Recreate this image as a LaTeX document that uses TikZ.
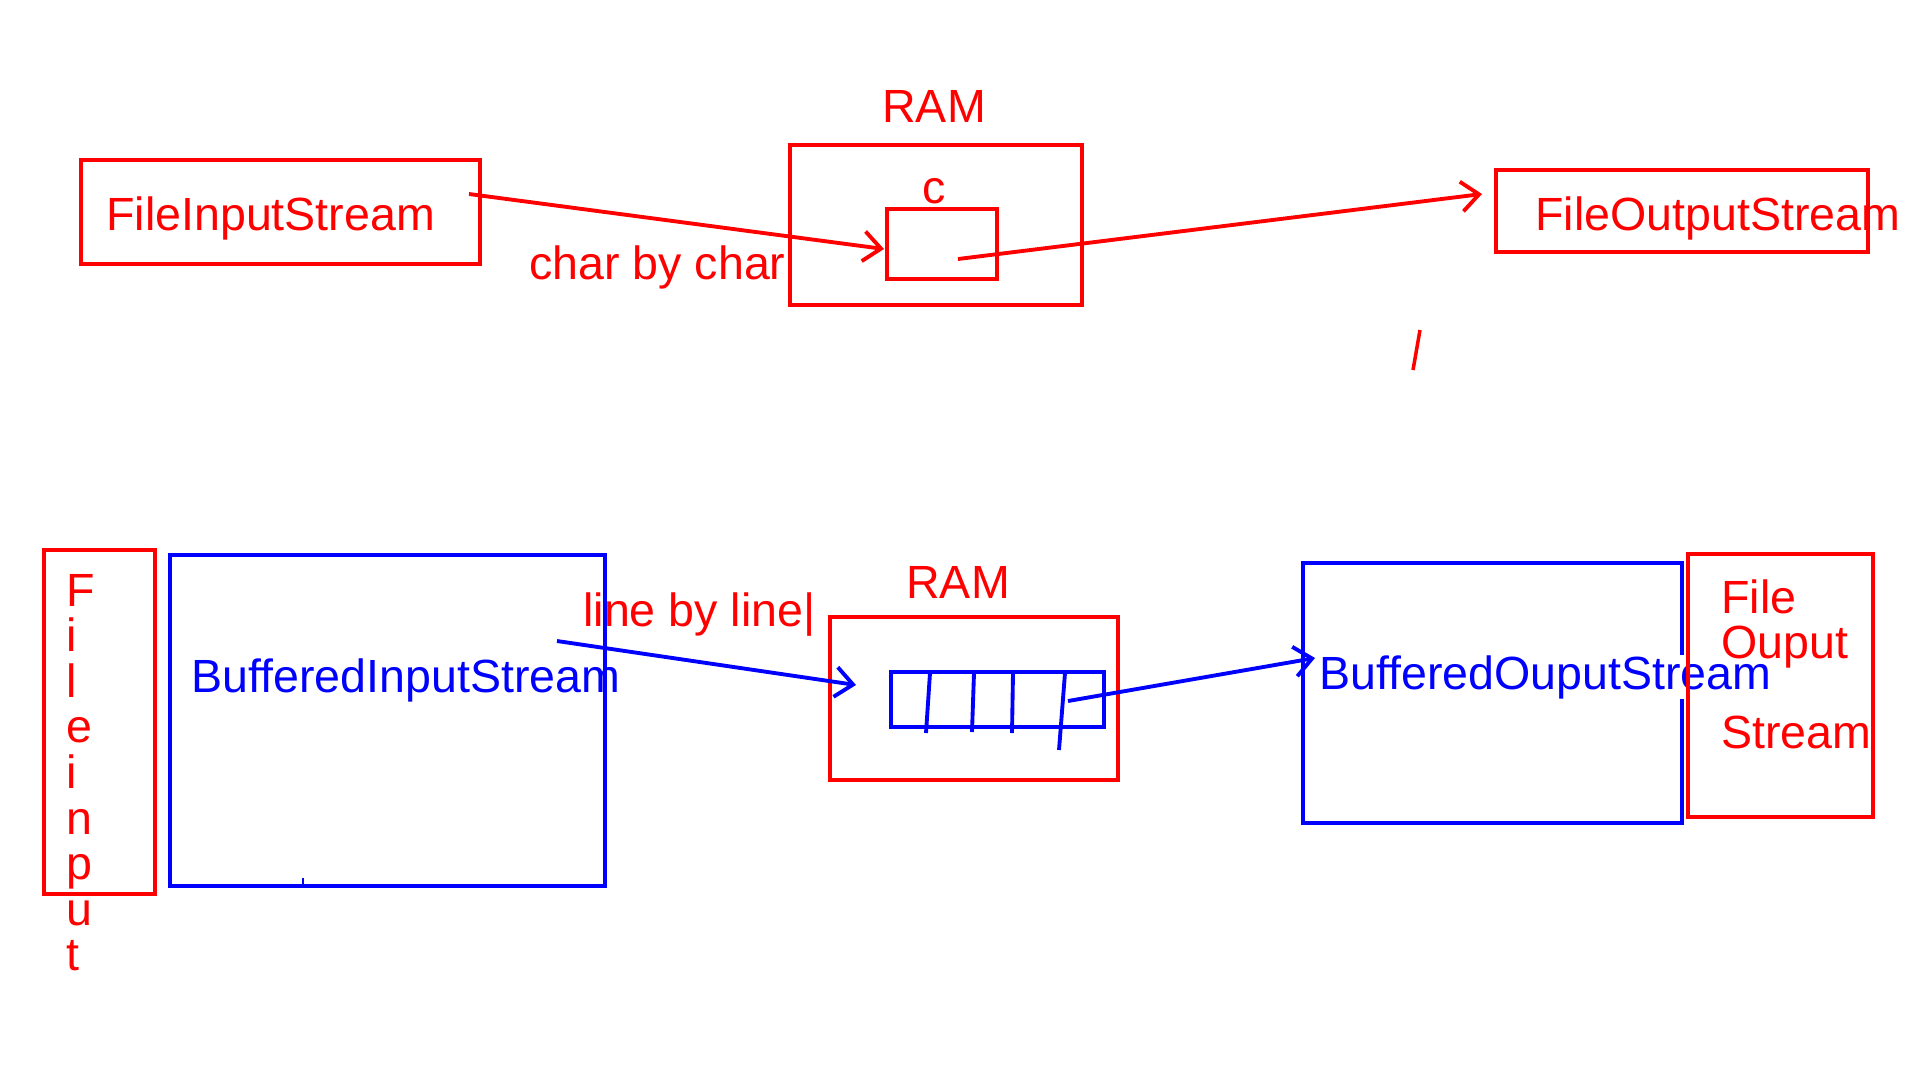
\documentclass[tikz,border=0pt]{standalone}
\usepackage{fontspec}
\setmainfont{Liberation Sans}
\usetikzlibrary{arrows.meta}

\begin{document}
\begin{tikzpicture}[x=0.02cm,y=-0.02cm,
  redbox/.style={draw=red,line width=2.4pt},
  bluebox/.style={draw=blue,line width=2.2pt},
  lbl/.style={inner sep=0pt,anchor=base west,font=\fontsize{26.5pt}{26.5pt}\selectfont},
  redarrow/.style={draw=red,line width=2.2pt,-{Straight Barb[length=10pt,width=17pt]}},
  bluearrow/.style={draw=blue,line width=2.2pt,-{Straight Barb[length=10pt,width=17pt]}}]
\useasboundingbox (0,0) rectangle (1920,1080);
% char by char
\node [redbox,minimum width=7.98cm,minimum height=2.08cm] (fis) at (280.5,212) {};
\node [lbl,red] (fistext) at (106,230) {FileInputStream};
\node [lbl,red] (ramtop) at (882,122) {RAM};
\node [redbox,minimum width=5.84cm,minimum height=3.2cm] (ram) at (936,225) {};
\node [lbl,red] (ctext) at (922,203) {c};
\node [redbox,minimum width=2.2cm,minimum height=1.4cm] (cell) at (942,244) {};
\node [lbl,red] (chartext) at (529,279) {char by char};
\node [redbox,minimum width=7.44cm,minimum height=1.64cm] (fos) at (1682,211) {};
\node [lbl,red] (fostext) at (1535,230) {FileOutputStream};
\coordinate (a1) at (469,194);
\coordinate (a2) at (884,249);
\coordinate (a3) at (958,259);
\coordinate (a4) at (1482,194);
\draw [redarrow] (a1) -- (a2);
\draw [redarrow] (a3) -- (a4);
\draw [red,line width=2pt] (1420,330) -- (1413,370);
% line by line
\node [redbox,minimum width=2.22cm,minimum height=6.88cm] (fib) at (99.5,722) {};
\foreach \ch [count=\i] in {F,i,l,e,i,n,p,u,t}
  {  \node [lbl,red] (fi\i) at (66,{606+45.6*(\i-1)}) {\ch};}
\node [bluebox,minimum width=8.7cm,minimum height=6.62cm] (bis) at (387.5,720.5) {};
\draw [blue,line width=1.5pt] (303,878) -- (303,884);
\node [lbl,blue] (bistext) at (191,692) {BufferedInputStream};
\node [lbl,red] (linetext) at (583,626) {line by line|};
\node [lbl,red] (rambot) at (906,598) {RAM};
\node [redbox,minimum width=5.76cm,minimum height=3.26cm] (ram2) at (974,698.5) {};
\node [bluebox,minimum width=4.26cm,minimum height=1.1cm] (buf) at (997.5,699.5) {};
\foreach \xa/\xb/\yb in {930/926/733,974/972/732,1013/1012/733,1065/1059/750}
  {  \draw [blue,line width=2.2pt] (\xa,673) -- (\xb,\yb);}
\node [bluebox,minimum width=7.58cm,minimum height=5.2cm] (bos) at (1492.5,693) {};
\node [lbl,blue,fill=white] (bostext) at (1319,689) {BufferedOuputStream};
\node [redbox,minimum width=3.7cm,minimum height=5.26cm] (fos2) at (1780.5,685.5) {};
\node [lbl,red] (fos2a) at (1721,613) {File};
\node [lbl,red] (fos2b) at (1721,658) {Ouput};
\node [lbl,red] (fos2c) at (1721,748) {Stream};
\coordinate (b1) at (557,641);
\coordinate (b2) at (856,685);
\coordinate (b3) at (1068,701);
\coordinate (b4) at (1315,658);
\draw [bluearrow] (b1) -- (b2);
\draw [bluearrow] (b3) -- (b4);
\end{tikzpicture}
\end{document}
